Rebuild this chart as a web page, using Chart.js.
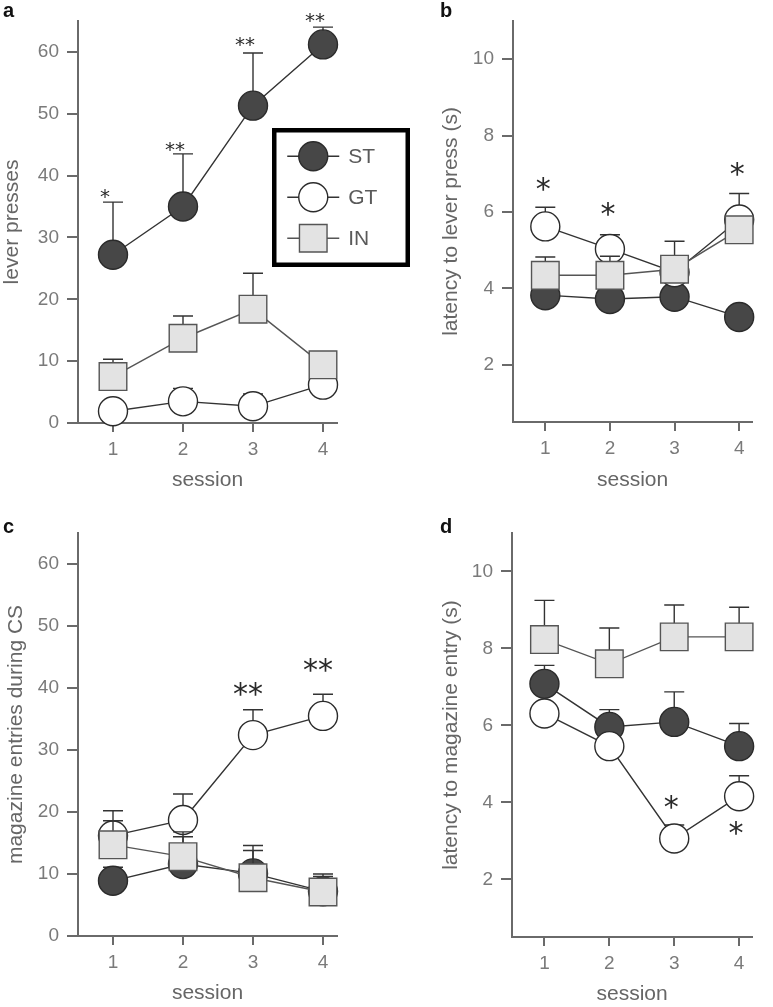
<!DOCTYPE html>
<html>
<head>
<meta charset="utf-8">
<script src="https://cdn.jsdelivr.net/npm/chart.js@4.4.1/dist/chart.umd.min.js"></script>
<style>
html, body { margin: 0; padding: 0; background: #fff; width: 773px; height: 1007px; overflow: hidden; }
canvas { position: absolute; }
.letter { position: absolute; font: bold 20px "Liberation Sans", Arial, sans-serif; line-height: 20px; color: #111; }
</style>
</head>
<body>
<canvas id="panelB" width="383" height="500" style="left:390px; top:0px;"></canvas>
<canvas id="panelD" width="383" height="514" style="left:390px; top:500px;"></canvas>
<canvas id="panelA" width="420" height="500" style="left:0px; top:0px;"></canvas>
<canvas id="panelC" width="390" height="513" style="left:0px; top:500px;"></canvas>
<div class="letter" style="left:3px; top:0px;">a</div>
<div class="letter" style="left:440px; top:0px;">b</div>
<div class="letter" style="left:3px; top:516px;">c</div>
<div class="letter" style="left:440px; top:516px;">d</div>
<script>
// sessions and groups
const sessions = [1, 2, 3, 4];
const groups = ['ST', 'GT', 'IN'];

// a - lever presses (mean, SEM)
const pressST = [27.2, 35.0, 51.3, 61.2];
const pressSTErr = [8.5, 8.5, 8.5, 2.8];
const pressGT = [1.9, 3.5, 2.7, 6.2];
const pressGTErr = [1.2, 2.1, 2.0, 1.5];
const pressIN = [7.5, 13.7, 18.4, 9.4];
const pressINErr = [2.8, 3.6, 5.8, 2.0];

// b - latency to lever press (s)
const pressLatST = [3.82, 3.72, 3.78, 3.25];
const pressLatSTErr = [0.15, 0.15, 0.15, 0.15];
const pressLatGT = [5.62, 5.03, 4.42, 5.8];
const pressLatGTErr = [0.5, 0.37, 0.3, 0.68];
const pressLatIN = [4.34, 4.34, 4.5, 5.53];
const pressLatINErr = [0.48, 0.5, 0.73, 0.3];

// c - magazine entries during CS
const magST = [8.9, 11.6, 10.1, 7.2];
const magSTErr = [2.2, 4.4, 4.5, 2.8];
const magGT = [16.2, 18.7, 32.4, 35.5];
const magGTErr = [4.0, 4.2, 4.1, 3.5];
const magIN = [14.7, 12.8, 9.4, 7.1];
const magINErr = [3.9, 4.0, 4.4, 2.5];

// d - latency to magazine entry (s)
const magLatST = [7.08, 5.96, 6.09, 5.46];
const magLatSTErr = [0.48, 0.45, 0.78, 0.59];
const magLatGT = [6.31, 5.46, 3.06, 4.16];
const magLatGTErr = [0.2, 0.2, 0.35, 0.53];
const magLatIN = [8.23, 7.6, 8.3, 8.3];
const magLatINErr = [1.02, 0.93, 0.83, 0.77];

// tick labels
const countTicks = [0, 10, 20, 30, 40, 50, 60];
const latencyTicks = [2, 4, 6, 8, 10];

// significance marks
const starsASession = [1, 2, 3, 4];
const starsALevel = [37.1, 44.7, 61.7, 65.6];
const starsAText = ['*', '**', '**', '**'];
const starsBSession = [1, 2, 4];
const starsBLevel = [6.72, 6.07, 7.11];
const starsBText = ['*', '*', '*'];
const starsCSession = [3, 4];
const starsCLevel = [39.9, 43.7];
const starsCText = ['**', '**'];
const starsDSession = [3, 4];
const starsDLevel = [4.0, 3.32];
const starsDText = ['*', '*'];

Chart.defaults.font.family = '"Liberation Sans", Arial, sans-serif';

const groupStyle = {
    ST: { pointStyle: 'circle', radius: 14.5, fill: '#474747', edge: '#2b2b2b', line: '#333', order: 3 },
    GT: { pointStyle: 'circle', radius: 14.5, fill: '#ffffff', edge: '#2b2b2b', line: '#333', order: 2 },
    IN: { pointStyle: 'rect', radius: 19.5, fill: '#e3e3e3', edge: '#555', line: '#555', order: 1 }
};

// upward SEM bars, drawn just under each series
const errorBars = {
    id: 'errorBars',
    beforeDatasetDraw(chart, args) {
        const ds = chart.data.datasets[args.index];
        if (!ds.errors) return;
        const ctx = chart.ctx;
        const xs = chart.scales.x, ys = chart.scales.y;
        ctx.save();
        ctx.strokeStyle = '#333';
        ctx.lineWidth = 1.4;
        ds.data.forEach((p, i) => {
            const px = xs.getPixelForValue(p.x);
            const py = ys.getPixelForValue(p.y);
            const top = ys.getPixelForValue(p.y + ds.errors[i]);
            ctx.beginPath();
            ctx.moveTo(px, py);
            ctx.lineTo(px, top);
            ctx.moveTo(px - 10, top);
            ctx.lineTo(px + 10, top);
            ctx.stroke();
        });
        ctx.restore();
    }
};

function starMarks(where, level, text, font, shift) {
    return {
        id: 'starMarks',
        afterDatasetsDraw(chart) {
            const ctx = chart.ctx;
            const xs = chart.scales.x, ys = chart.scales.y;
            ctx.save();
            ctx.font = font;
            ctx.fillStyle = '#2a2a2a';
            ctx.textAlign = 'center';
            ctx.textBaseline = 'alphabetic';
            text.forEach((t, i) => {
                const m = ctx.measureText(t);
                const px = xs.getPixelForValue(where[i]) + shift;
                const py = ys.getPixelForValue(level[i]);
                ctx.fillText(t, px, py + (m.actualBoundingBoxAscent - m.actualBoundingBoxDescent) / 2);
            });
            ctx.restore();
        }
    };
}

function boxLegend(box) {
    return {
        id: 'boxLegend',
        afterDraw(chart) {
            const ctx = chart.ctx;
            ctx.save();
            ctx.lineWidth = 4.5;
            ctx.strokeStyle = '#000';
            ctx.strokeRect(box.left, box.top, box.width, box.height);
            chart.data.datasets.forEach((ds, i) => {
                const cy = box.top + box.firstRow + i * box.rowGap;
                const cx = box.left + box.markerX;
                ctx.strokeStyle = ds.borderColor;
                ctx.lineWidth = ds.borderWidth;
                ctx.beginPath();
                ctx.moveTo(cx - 26, cy);
                ctx.lineTo(cx + 26, cy);
                ctx.stroke();
                ctx.fillStyle = ds.pointBackgroundColor;
                ctx.strokeStyle = ds.pointBorderColor;
                ctx.lineWidth = ds.pointBorderWidth;
                Chart.helpers.drawPoint(ctx, { pointStyle: ds.pointStyle, radius: ds.pointRadius, borderWidth: ds.pointBorderWidth, rotation: 0 }, cx, cy);
                ctx.fillStyle = '#5a5a5a';
                ctx.font = '21px "Liberation Sans", Arial, sans-serif';
                ctx.textAlign = 'left';
                ctx.textBaseline = 'middle';
                ctx.fillText(ds.label, box.left + box.textX, cy + 1);
            });
            ctx.restore();
        }
    };
}

function buildPanel(id, p) {
    const datasets = groups.map((g, k) => {
        const st = groupStyle[g];
        return {
            label: g,
            data: sessions.map((s, i) => ({ x: s, y: p.values[k][i] })),
            errors: p.errors[k],
            order: st.order,
            borderColor: st.line,
            borderWidth: 1.4,
            pointStyle: st.pointStyle,
            pointRadius: st.radius,
            pointHoverRadius: st.radius,
            pointBackgroundColor: st.fill,
            pointBorderColor: st.edge,
            pointBorderWidth: 1.4,
            tension: 0,
            clip: false
        };
    });

    const extra = [errorBars, starMarks(p.starWhere, p.starLevel, p.starText, p.starFont, p.starShift)];
    if (p.legend) extra.push(boxLegend(p.legend));

    new Chart(document.getElementById(id), {
        type: 'line',
        data: { datasets: datasets },
        plugins: extra,
        options: {
            responsive: false,
            animation: false,
            devicePixelRatio: 1,
            events: [],
            layout: { padding: { left: 0, top: p.top, right: p.right, bottom: 0 } },
            plugins: { legend: { display: false }, tooltip: { enabled: false } },
            scales: {
                x: {
                    type: 'linear',
                    min: 0.5,
                    max: 4.2,
                    afterBuildTicks: (s) => { s.ticks = sessions.map(v => ({ value: v })); },
                    afterFit: (s) => { s.height = p.xHeight; },
                    grid: { drawOnChartArea: false, color: '#6a6a6a', lineWidth: 2, tickLength: 9 },
                    border: { color: '#6a6a6a', width: 2 },
                    ticks: { color: '#7a7a7a', font: { size: 19 }, padding: 6 },
                    title: { display: true, text: 'session', color: '#666', font: { size: 21 }, padding: { top: 0, bottom: 7 } }
                },
                y: {
                    min: p.yMin,
                    max: p.yMax,
                    afterBuildTicks: (s) => { s.ticks = p.yTicks.map(v => ({ value: v })); },
                    afterFit: (s) => { s.width = p.axisX; },
                    grid: { drawOnChartArea: false, color: '#6a6a6a', lineWidth: 2, tickLength: 11 },
                    border: { color: '#6a6a6a', width: 2 },
                    ticks: { color: '#7a7a7a', font: { size: 19 }, padding: 8 },
                    title: { display: true, text: p.yTitle, color: '#666', font: { size: 21 }, padding: { top: p.titlePad, bottom: 0 } }
                }
            }
        }
    });
}

buildPanel('panelA', {
    values: [pressST, pressGT, pressIN],
    errors: [pressSTErr, pressGTErr, pressINErr],
    yMin: 0, yMax: 65, yTicks: countTicks, yTitle: 'lever presses',
    axisX: 78, titlePad: 0, top: 20, right: 83, xHeight: 77,
    starWhere: starsASession, starLevel: starsALevel, starText: starsAText,
    starFont: '20px "DejaVu Sans", sans-serif', starShift: -8,
    legend: { left: 274.25, top: 130.25, width: 133.5, height: 134.5, firstRow: 26, rowGap: 41, markerX: 39, textX: 74 }
});

buildPanel('panelB', {
    values: [pressLatST, pressLatGT, pressLatIN],
    errors: [pressLatSTErr, pressLatGTErr, pressLatINErr],
    yMin: 0.5, yMax: 11, yTicks: latencyTicks, yTitle: 'latency to lever press (s)',
    axisX: 123, titlePad: 49, top: 20, right: 0, xHeight: 78,
    starWhere: starsBSession, starLevel: starsBLevel, starText: starsBText,
    starFont: '30px "DejaVu Sans", sans-serif', starShift: -2
});

buildPanel('panelC', {
    values: [magST, magGT, magIN],
    errors: [magSTErr, magGTErr, magINErr],
    yMin: 0, yMax: 65, yTicks: countTicks, yTitle: 'magazine entries during CS',
    axisX: 78, titlePad: 4, top: 33, right: 53, xHeight: 77,
    starWhere: starsCSession, starLevel: starsCLevel, starText: starsCText,
    starFont: '30px "DejaVu Sans", sans-serif', starShift: -5
});

buildPanel('panelD', {
    values: [magLatST, magLatGT, magLatIN],
    errors: [magLatSTErr, magLatGTErr, magLatINErr],
    yMin: 0.5, yMax: 11, yTicks: latencyTicks, yTitle: 'latency to magazine entry (s)',
    axisX: 122, titlePad: 49, top: 33, right: 0, xHeight: 77,
    starWhere: starsDSession, starLevel: starsDLevel, starText: starsDText,
    starFont: '30px "DejaVu Sans", sans-serif', starShift: -3
});
</script>
</body>
</html>
